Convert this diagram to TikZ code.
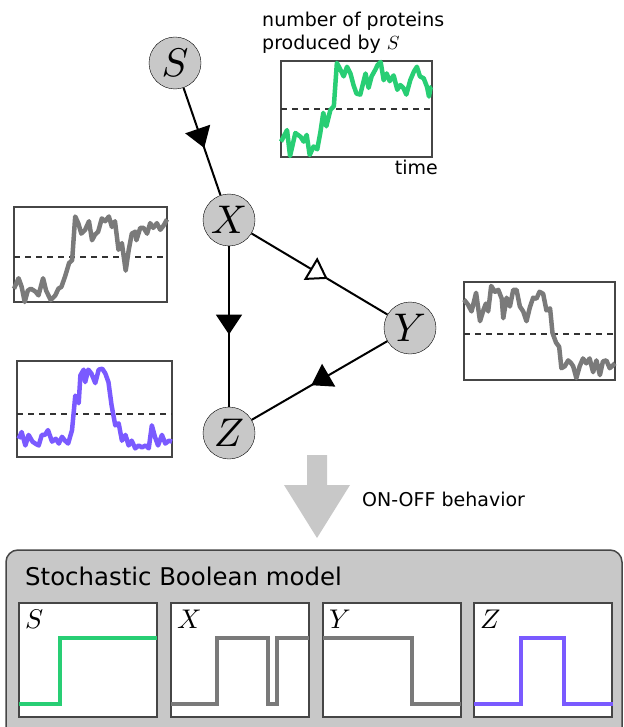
\documentclass[tikz,border=0pt]{standalone}
\usepackage{fontspec}
\setmainfont{DejaVu Sans}
\DeclareFontShape{OML}{cmm}{m}{it}{<->cmmi10}{}
\usetikzlibrary{arrows.meta,decorations.markings}
\definecolor{nodegray}{RGB}{200,200,200}
\definecolor{sgreen}{RGB}{40,206,116}
\definecolor{tgray}{RGB}{122,122,122}
\definecolor{zpurple}{RGB}{122,90,255}
\definecolor{framegray}{RGB}{70,70,70}
\tikzset{
	species/.style={circle,draw,fill=nodegray,minimum size=52pt,inner sep=0pt,font=\fontsize{40}{40}\selectfont},%
	edge/.style={line width=2pt},%
	fullmark/.style={decoration={markings,mark=at position #1 with {\arrow{Triangle[length=20pt,width=26pt]}}},postaction={decorate}},%
	openmark/.style={decoration={markings,mark=at position #1 with {\arrow{Triangle[open,length=20pt,width=26pt,fill=white]}}},postaction={decorate}},%
	plotbox/.style={draw=framegray,fill=white,line width=1.3pt},%
	threshold/.style={dash pattern=on 6pt off 5pt,line width=2pt,black!80},%
	trace/.style={line width=4.5pt,line join=round},%
	levels/.style={line width=4pt,line join=miter},%
	caption/.style={font=\fontsize{19}{23}\selectfont,inner sep=0pt},%
	boxlabel/.style={anchor=base west,inner sep=0pt,font=\fontsize{27}{27}\selectfont},%
}

\begin{document}
\begin{tikzpicture}[x=1pt,y=-1pt]
	\useasboundingbox (0,0) rectangle (623,727);
	% Network {{{
	\node[species] (S) at (175,63) {$S$};
	\node[species] (X) at (229,220) {$X$};
	\node[species] (Y) at (410,328) {$Y$};
	\node[species] (Z) at (229,433) {$Z$};
	\draw[edge,fullmark=0.56] (S) -- (X);
	\draw[edge,openmark=0.56] (X) -- (Y);
	\draw[edge,fullmark=0.55] (X) -- (Z);
	\draw[edge,fullmark=0.56] (Y) -- (Z);
	% }}}
	% Trajectories {{{
	\node[caption,anchor=base west,align=left] (title) at (262,50) {number of proteins\\produced by $S$};
	\node[caption,anchor=base east] (time) at (438,175) {time};
	\begin{scope}[shift={(281,157)},x=1.51pt,y=0.96pt]
		\draw[plotbox] (0,0) rectangle (100,100);
		\draw[threshold] (0,50) -- (100,50);
		\draw[trace,sgreen] plot coordinates {(0,16) (4,28) (6,1) (9.5,25) (13,21) (15,16) (17,23) (19,2) (21.6,11) (24,8) (26,25) (28,46) (30,32) (32.7,49) (35,53) (37,98) (39,92) (41.5,84) (43.7,94) (46,87) (48,75) (50,66) (52.5,65) (53.6,72) (56,87) (58,72) (60,84) (62.5,91) (64,96) (66,99) (68,80) (70,87) (72,79) (74.6,85) (77,70) (79,75) (81,72) (83,65) (85.6,80) (88,89) (90,94) (92,84) (94.5,82) (96.7,73) (98,63) (99,72) (100,73)};
	\end{scope}
	\begin{scope}[shift={(14,302)},x=1.53pt,y=0.95pt]
		\draw[plotbox] (0,0) rectangle (100,100);
		\draw[threshold] (0,47) -- (100,47);
		\draw[trace,tgray] plot coordinates {(0,14) (3,25) (5,16) (7,0) (9,12) (11,14) (14,11) (16,7) (19,25) (21,12) (24,2) (27,7) (29,14) (31,16) (33.4,27) (36,41) (38,44) (40,90) (42,83) (44,72) (46.5,76) (49,85) (51,65) (53,71) (55,74) (57.4,88) (59.6,85) (62,90) (64,79) (66,85) (68.3,55) (70.5,62) (73,33) (75,55) (77,72) (79.3,74) (80,65) (82.5,78) (84.7,78) (87,72) (89,83) (91,78) (93.4,83) (95.6,76) (98,81) (100,87)};
	\end{scope}
	\begin{scope}[shift={(464,380)},x=1.51pt,y=0.98pt]
		\draw[plotbox] (0,0) rectangle (100,100);
		\draw[threshold] (0,47) -- (100,47);
		\draw[trace,tgray] plot coordinates {(0,82) (2.6,77) (5,70) (8,89) (10.6,60) (13,72) (14.5,78) (16,70) (18,96) (20.5,90) (22.7,92) (25,83) (26,63) (28.2,84) (30.4,75) (32.6,92) (34.8,92) (37,75) (39.2,70) (41.4,60) (43.6,74) (45.8,84) (48,83) (50,90) (52.4,88) (54.6,71) (57,73) (58.6,48) (61,38) (63,34) (64.5,12) (66.7,14) (69,20) (71,17) (72.3,14) (74.4,2) (76.6,14) (78.8,22) (81,17) (83.2,22) (85.5,8) (87.7,20) (90,5) (92,19) (94.3,20) (96.5,12) (100,17)};
	\end{scope}
	\begin{scope}[shift={(17,457)},x=1.55pt,y=0.96pt]
		\draw[plotbox] (0,0) rectangle (100,100);
		\draw[threshold] (0,45) -- (100,45);
		\draw[trace,zpurple] plot coordinates {(1,19) (3,26) (5.4,12) (7.5,23) (10,16) (11.8,14) (14,12) (16,23) (18,23) (20,28) (22.6,16) (25,19) (27,14) (29,21) (31,17) (33,14) (35.5,28) (37.6,64) (39.8,56) (40.9,85) (43,91) (44,78) (46,91) (48,87) (50.5,77) (52.7,91) (55,92) (57,87) (59,78) (61,54) (63.4,33) (65.6,35) (67.7,17) (70,23) (72,12) (74,17) (76.3,9) (78.5,12) (80.6,10) (83,12) (85,9) (87,33) (89,21) (91,12) (93.5,23) (95.7,14) (98,17) (100,16)};
	\end{scope}
	% }}}
	% ON-OFF arrow {{{
	\fill[nodegray] (307,455) -- (327,455) -- (327,485) -- (350,485) -- (317,538) -- (284,485) -- (307,485) -- cycle;
	\node[caption,anchor=base west] (onoff) at (362,506) {ON-OFF behavior};
	% }}}
	% Boolean model {{{
	\draw[fill=nodegray,draw=framegray,line width=1.5pt,rounded corners=12pt] (6,550) rectangle (622,760);
	\node[anchor=base west,inner sep=0pt,font=\fontsize{24.4}{26}\selectfont] (model) at (25,585) {Stochastic Boolean model};
	\foreach \xo in {19,171,323,474}
		\draw[plotbox] (\xo,603) rectangle ++(138,114);
	\draw[levels,sgreen] (19,704) -- (60,704) -- (60,638) -- (157,638);
	\draw[levels,tgray] (171,704) -- (217,704) -- (217,638) -- (268,638) -- (268,704) -- (277,704) -- (277,638) -- (309,638);
	\draw[levels,tgray] (323,638) -- (412,638) -- (412,704) -- (461,704);
	\draw[levels,zpurple] (474,704) -- (521,704) -- (521,638) -- (564,638) -- (564,704) -- (613,704);
	\node[boxlabel] (labS) at (25,628) {$S$};
	\node[boxlabel] (labX) at (177,628) {$X$};
	\node[boxlabel] (labY) at (329,628) {$Y$};
	\node[boxlabel] (labZ) at (480,628) {$Z$};
	% }}}
\end{tikzpicture}
\end{document}
